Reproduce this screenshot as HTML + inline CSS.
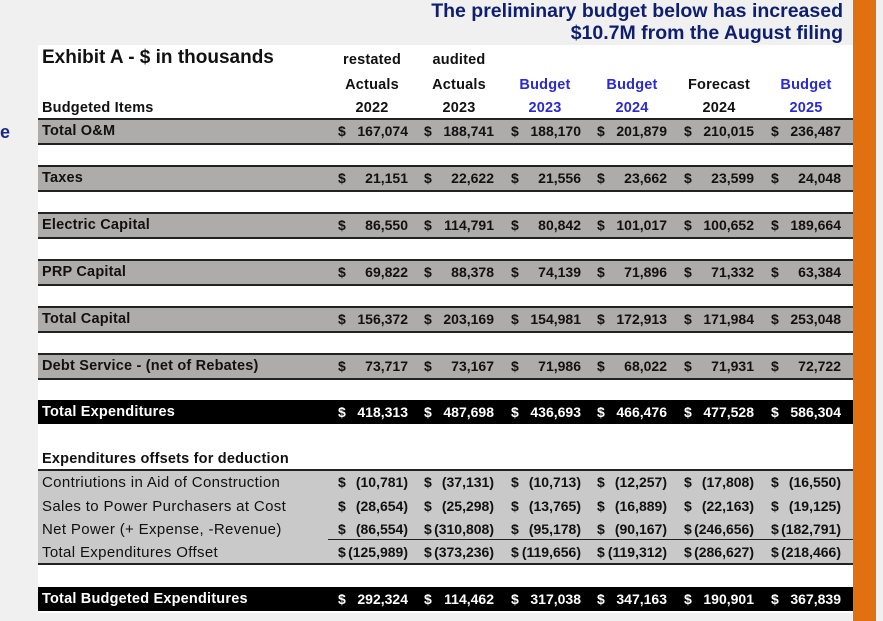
<!DOCTYPE html>
<html><head><meta charset="utf-8"><style>
body{margin:0;width:883px;height:621px;background:#f0f0f0;position:relative;overflow:hidden;font-family:"Liberation Sans",sans-serif}
.a{position:absolute}
.panel{left:38px;top:45px;width:815px;height:568px;background:#fff}
.orange{left:853px;top:0;width:23px;height:621px;background:#e07010}
.title{right:40px;top:0;text-align:right;color:#0d1f6e;font-weight:bold;font-size:19.5px;line-height:22px}
.band{left:38px;width:815px;height:23px;background:#aeabab;border-top:2px solid #222;border-bottom:2px solid #222}
.blk{left:38px;width:815px;height:24px;background:#000}
.lbl{left:42px;font-size:14.5px;font-weight:bold;color:#111;line-height:19px;letter-spacing:0.2px;white-space:nowrap}
.reg{font-weight:normal;font-size:15px;letter-spacing:0.35px}
.hd{font-size:14.5px;font-weight:bold;width:90px;text-align:center;line-height:18px;color:#111;letter-spacing:0.2px}
.bl{color:#2a2ad0}
.v{font-size:14px;font-weight:bold;width:70px;line-height:18px;color:#111;display:flex;justify-content:space-between}
.w{color:#fff}
</style></head><body>
<div class="a panel"></div>
<div class="a orange"></div>
<div class="a" style="left:0;top:122px;color:#1a2a8a;font-size:18px;font-weight:bold">e</div>
<div class="a title">The preliminary budget below has increased<br>$10.7M from the August filing</div>
<div class="a" style="left:42px;top:47px;font-size:19px;font-weight:bold;color:#111">Exhibit A - $ in thousands</div>

<div class="a hd" style="left:327px;top:51px">restated</div>
<div class="a hd" style="left:414px;top:51px">audited</div>
<div class="a hd" style="left:327px;top:76px">Actuals</div>
<div class="a hd" style="left:414px;top:76px">Actuals</div>
<div class="a hd bl" style="left:500px;top:76px">Budget</div>
<div class="a hd bl" style="left:587px;top:76px">Budget</div>
<div class="a hd" style="left:674px;top:76px">Forecast</div>
<div class="a hd bl" style="left:761px;top:76px">Budget</div>
<div class="a hd" style="left:327px;top:99px">2022</div>
<div class="a hd" style="left:414px;top:99px">2023</div>
<div class="a hd bl" style="left:500px;top:99px">2023</div>
<div class="a hd bl" style="left:587px;top:99px">2024</div>
<div class="a hd" style="left:674px;top:99px">2024</div>
<div class="a hd bl" style="left:761px;top:99px">2025</div>
<div class="a lbl" style="top:99px">Budgeted Items</div>

<div class="a band" style="top:118px"></div>
<div class="a band" style="top:165px"></div>
<div class="a band" style="top:212px"></div>
<div class="a band" style="top:259px"></div>
<div class="a band" style="top:306px"></div>
<div class="a band" style="top:353px"></div>
<div class="a blk" style="top:400px"></div>
<div class="a" style="left:38px;top:469px;width:815px;height:92px;background:#c9c9c9;border-top:2px solid #222;border-bottom:2px solid #222"></div>
<div class="a" style="left:328px;top:539px;width:525px;height:1px;background:#222"></div>
<div class="a blk" style="top:587px"></div>

<div class="a lbl" style="top:122px">Total O&amp;M</div>
<div class="a lbl" style="top:169px">Taxes</div>
<div class="a lbl" style="top:216px">Electric Capital</div>
<div class="a lbl" style="top:263px">PRP Capital</div>
<div class="a lbl" style="top:310px">Total Capital</div>
<div class="a lbl" style="top:357px">Debt Service  - (net of Rebates)</div>
<div class="a lbl w" style="top:403px">Total Expenditures</div>
<div class="a lbl" style="top:450px">Expenditures offsets for deduction</div>
<div class="a lbl reg" style="top:473px">Contriutions in Aid of Construction</div>
<div class="a lbl reg" style="top:497px">Sales to Power Purchasers at Cost</div>
<div class="a lbl reg" style="top:520px">Net Power (+ Expense, -Revenue)</div>
<div class="a lbl reg" style="top:543px">Total Expenditures Offset</div>
<div class="a lbl w" style="top:590px">Total Budgeted Expenditures</div>

<div class="a v" style="left:338px;top:122px"><span>$</span><span>167,074</span></div>
<div class="a v" style="left:424px;top:122px"><span>$</span><span>188,741</span></div>
<div class="a v" style="left:511px;top:122px"><span>$</span><span>188,170</span></div>
<div class="a v" style="left:597px;top:122px"><span>$</span><span>201,879</span></div>
<div class="a v" style="left:684px;top:122px"><span>$</span><span>210,015</span></div>
<div class="a v" style="left:771px;top:122px"><span>$</span><span>236,487</span></div>

<div class="a v" style="left:338px;top:169px"><span>$</span><span>21,151</span></div>
<div class="a v" style="left:424px;top:169px"><span>$</span><span>22,622</span></div>
<div class="a v" style="left:511px;top:169px"><span>$</span><span>21,556</span></div>
<div class="a v" style="left:597px;top:169px"><span>$</span><span>23,662</span></div>
<div class="a v" style="left:684px;top:169px"><span>$</span><span>23,599</span></div>
<div class="a v" style="left:771px;top:169px"><span>$</span><span>24,048</span></div>

<div class="a v" style="left:338px;top:216px"><span>$</span><span>86,550</span></div>
<div class="a v" style="left:424px;top:216px"><span>$</span><span>114,791</span></div>
<div class="a v" style="left:511px;top:216px"><span>$</span><span>80,842</span></div>
<div class="a v" style="left:597px;top:216px"><span>$</span><span>101,017</span></div>
<div class="a v" style="left:684px;top:216px"><span>$</span><span>100,652</span></div>
<div class="a v" style="left:771px;top:216px"><span>$</span><span>189,664</span></div>

<div class="a v" style="left:338px;top:263px"><span>$</span><span>69,822</span></div>
<div class="a v" style="left:424px;top:263px"><span>$</span><span>88,378</span></div>
<div class="a v" style="left:511px;top:263px"><span>$</span><span>74,139</span></div>
<div class="a v" style="left:597px;top:263px"><span>$</span><span>71,896</span></div>
<div class="a v" style="left:684px;top:263px"><span>$</span><span>71,332</span></div>
<div class="a v" style="left:771px;top:263px"><span>$</span><span>63,384</span></div>

<div class="a v" style="left:338px;top:310px"><span>$</span><span>156,372</span></div>
<div class="a v" style="left:424px;top:310px"><span>$</span><span>203,169</span></div>
<div class="a v" style="left:511px;top:310px"><span>$</span><span>154,981</span></div>
<div class="a v" style="left:597px;top:310px"><span>$</span><span>172,913</span></div>
<div class="a v" style="left:684px;top:310px"><span>$</span><span>171,984</span></div>
<div class="a v" style="left:771px;top:310px"><span>$</span><span>253,048</span></div>

<div class="a v" style="left:338px;top:357px"><span>$</span><span>73,717</span></div>
<div class="a v" style="left:424px;top:357px"><span>$</span><span>73,167</span></div>
<div class="a v" style="left:511px;top:357px"><span>$</span><span>71,986</span></div>
<div class="a v" style="left:597px;top:357px"><span>$</span><span>68,022</span></div>
<div class="a v" style="left:684px;top:357px"><span>$</span><span>71,931</span></div>
<div class="a v" style="left:771px;top:357px"><span>$</span><span>72,722</span></div>

<div class="a v w" style="left:338px;top:403px"><span>$</span><span>418,313</span></div>
<div class="a v w" style="left:424px;top:403px"><span>$</span><span>487,698</span></div>
<div class="a v w" style="left:511px;top:403px"><span>$</span><span>436,693</span></div>
<div class="a v w" style="left:597px;top:403px"><span>$</span><span>466,476</span></div>
<div class="a v w" style="left:684px;top:403px"><span>$</span><span>477,528</span></div>
<div class="a v w" style="left:771px;top:403px"><span>$</span><span>586,304</span></div>

<div class="a v" style="left:338px;top:473px"><span>$</span><span>(10,781)</span></div>
<div class="a v" style="left:424px;top:473px"><span>$</span><span>(37,131)</span></div>
<div class="a v" style="left:511px;top:473px"><span>$</span><span>(10,713)</span></div>
<div class="a v" style="left:597px;top:473px"><span>$</span><span>(12,257)</span></div>
<div class="a v" style="left:684px;top:473px"><span>$</span><span>(17,808)</span></div>
<div class="a v" style="left:771px;top:473px"><span>$</span><span>(16,550)</span></div>

<div class="a v" style="left:338px;top:497px"><span>$</span><span>(28,654)</span></div>
<div class="a v" style="left:424px;top:497px"><span>$</span><span>(25,298)</span></div>
<div class="a v" style="left:511px;top:497px"><span>$</span><span>(13,765)</span></div>
<div class="a v" style="left:597px;top:497px"><span>$</span><span>(16,889)</span></div>
<div class="a v" style="left:684px;top:497px"><span>$</span><span>(22,163)</span></div>
<div class="a v" style="left:771px;top:497px"><span>$</span><span>(19,125)</span></div>

<div class="a v" style="left:338px;top:520px"><span>$</span><span>(86,554)</span></div>
<div class="a v" style="left:424px;top:520px"><span>$</span><span>(310,808)</span></div>
<div class="a v" style="left:511px;top:520px"><span>$</span><span>(95,178)</span></div>
<div class="a v" style="left:597px;top:520px"><span>$</span><span>(90,167)</span></div>
<div class="a v" style="left:684px;top:520px"><span>$</span><span>(246,656)</span></div>
<div class="a v" style="left:771px;top:520px"><span>$</span><span>(182,791)</span></div>

<div class="a v" style="left:338px;top:543px"><span>$</span><span>(125,989)</span></div>
<div class="a v" style="left:424px;top:543px"><span>$</span><span>(373,236)</span></div>
<div class="a v" style="left:511px;top:543px"><span>$</span><span>(119,656)</span></div>
<div class="a v" style="left:597px;top:543px"><span>$</span><span>(119,312)</span></div>
<div class="a v" style="left:684px;top:543px"><span>$</span><span>(286,627)</span></div>
<div class="a v" style="left:771px;top:543px"><span>$</span><span>(218,466)</span></div>

<div class="a v w" style="left:338px;top:590px"><span>$</span><span>292,324</span></div>
<div class="a v w" style="left:424px;top:590px"><span>$</span><span>114,462</span></div>
<div class="a v w" style="left:511px;top:590px"><span>$</span><span>317,038</span></div>
<div class="a v w" style="left:597px;top:590px"><span>$</span><span>347,163</span></div>
<div class="a v w" style="left:684px;top:590px"><span>$</span><span>190,901</span></div>
<div class="a v w" style="left:771px;top:590px"><span>$</span><span>367,839</span></div>
</body></html>
